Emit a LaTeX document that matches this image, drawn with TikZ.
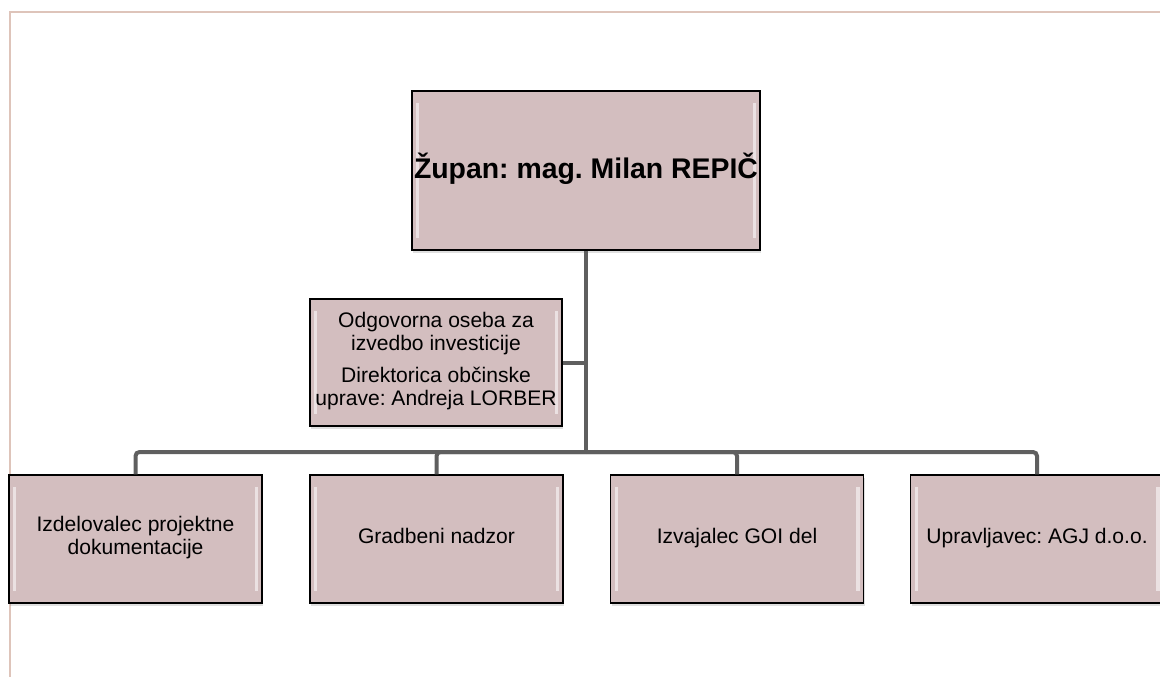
\documentclass[tikz,border=0pt]{standalone}
\usepackage{fontspec}
\setmainfont{Liberation Sans}
\frenchspacing
\usetikzlibrary{shadows}
\definecolor{boxfill}{RGB}{211,190,191}
\definecolor{linkgray}{RGB}{95,95,95}
\definecolor{pageline}{RGB}{222,196,186}
\begin{document}
\begin{tikzpicture}[x=0.75pt, y=-0.75pt,
    orgbox/.style={draw=black, line width=1.1pt, fill=boxfill, align=center,
        inner sep=1pt, drop shadow={opacity=0.25, shadow xshift=1pt, shadow yshift=-2pt},
        font=\fontsize{15.8}{17.3}\selectfont,
        execute at begin node=\strut, execute at end node=\strut,
        path picture={
            \fill[white, opacity=0.55] ([xshift=3pt, yshift=-9pt]path picture bounding box.north west)
                rectangle ([xshift=5.5pt, yshift=9pt]path picture bounding box.south west);
            \fill[white, opacity=0.55] ([xshift=-5.5pt, yshift=-9pt]path picture bounding box.north east)
                rectangle ([xshift=-3pt, yshift=9pt]path picture bounding box.south east);
        }},
    childbox/.style={orgbox, minimum width=189.75pt, minimum height=96pt},
    link/.style={draw=linkgray, line width=3pt, rounded corners=3pt}]
    \useasboundingbox (0,0) rectangle (1160,677);

    % Page border
    \draw[pageline, line width=1.5pt] (1160,12) -- (10,12) -- (10,677);

    % The mayor at the top
    \node[orgbox, minimum width=261pt, minimum height=119.25pt,
        font=\fontsize{21.3}{24}\selectfont\bfseries] (zupan) at (586,170.5) {Župan: mag. Milan REPIČ};

    % Bottom row
    \node[childbox] (izdel) at (135.5,539) {Izdelovalec projektne\\dokumentacije};
    \node[childbox] (nadzor) at (436.5,539) {Gradbeni nadzor};
    \node[childbox] (izvaj) at (737,539) {Izvajalec GOI del};
    \node[childbox] (upravlj) at (1037,539) {Upravljavec: AGJ d.o.o.};

    % Assistant box
    \node[orgbox, minimum width=189pt, minimum height=95.25pt] (odgov) at (436,362.5)
        {Odgovorna oseba za\\izvedbo investicije\\[6.5pt]Direktorica občinske\\uprave: Andreja LORBER};

    % Connectors
    \coordinate (bus) at (586,452);
    \draw[link] (zupan.south) -- (bus);
    \draw[link] (odgov.east) -- (odgov.east -| zupan.south);
    \draw[link] (izdel.north) |- (bus) -| (upravlj.north);
    \draw[link] (nadzor.north) |- (bus);
    \draw[link] (izvaj.north) |- (bus);
\end{tikzpicture}
\end{document}
